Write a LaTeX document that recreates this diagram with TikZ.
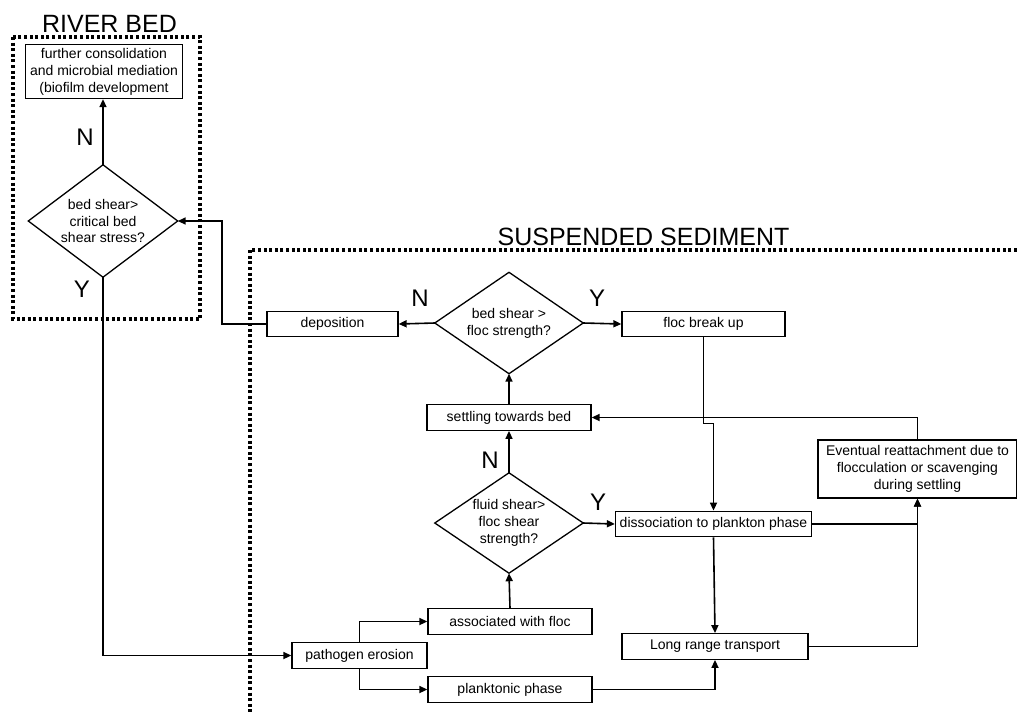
\documentclass[tikz,border=0pt]{standalone}
\usepackage{fontspec}
\setmainfont{Liberation Sans}
\usetikzlibrary{arrows.meta}
\begin{document}
\begin{tikzpicture}[x=1pt,y=-1pt,
  box/.style={draw, line width=1.3pt, inner sep=0pt, align=center,
    font=\fontsize{14}{17}\selectfont, minimum height=25.5pt},
  dia/.style={inner sep=0pt, align=center, font=\fontsize{14}{16.8}\selectfont},
  diaedge/.style={line width=1.3pt, line join=miter},
  conn/.style={line width=1.6pt, -{Triangle[length=8pt,width=7pt]}},
  yn/.style={font=\fontsize{24}{28}\selectfont},
  ttl/.style={font=\fontsize{25}{30}\selectfont, anchor=base},
  framed/.style={line width=3.4pt, dash pattern=on 3pt off 2.6pt}
]
\useasboundingbox (0,0) rectangle (1017,713);

% frames and titles
\draw[framed] (13,37) rectangle (200,319);
\node[ttl] (t1) at (109.5,32) {RIVER BED};
\draw[framed] (1017,250) -- (250,250) -- (250,713);
\node[ttl] (t2) at (643.5,245) {SUSPENDED SEDIMENT};

% river bed
\node[box, minimum width=157pt, minimum height=54pt] (tb) at (104,71.5)
  {further consolidation\\and microbial mediation\\(biofilm development};
\node[dia, minimum width=149pt, minimum height=112pt] (d1) at (103,221)
  {bed shear>\\critical bed\\shear stress?};
\draw[diaedge] (d1.north) -- (d1.east) -- (d1.south) -- (d1.west) -- cycle;
\node[yn] (n1) at (85,137) {N};
\node[yn] (y1) at (82,289) {Y};

% suspended sediment
\node[box, minimum width=131pt] (dep) at (332.5,324) {deposition};
\node[dia, minimum width=148pt, minimum height=101pt] (d2) at (509,323)
  {bed shear >\\floc strength?};
\draw[diaedge] (d2.north) -- (d2.east) -- (d2.south) -- (d2.west) -- cycle;
\node[yn] (n2) at (420,298) {N};
\node[yn] (y2) at (597,298) {Y};
\node[box, minimum width=163pt] (floc) at (703.5,324) {floc break up};

\node[box, minimum width=164pt] (settle) at (509,417.5) {settling towards bed};
\node[dia, minimum width=148pt, minimum height=100pt] (d3) at (509,523)
  {fluid shear>\\floc shear\\strength?};
\draw[diaedge] (d3.north) -- (d3.east) -- (d3.south) -- (d3.west) -- cycle;
\node[yn] (n3) at (490,460) {N};
\node[yn] (y3) at (598,502) {Y};
\node[box, minimum width=196pt] (dis) at (713.5,524) {dissociation to plankton phase};
\node[box, minimum width=199pt, minimum height=58pt] (ev) at (917.5,469)
  {Eventual reattachment due to\\flocculation or scavenging\\during settling};

\node[box, minimum width=164pt] (assoc) at (510,621.5) {associated with floc};
\node[box, minimum width=135pt] (path) at (359.5,655.5) {pathogen erosion};
\node[box, minimum width=164pt] (plank) at (510,689.5) {planktonic phase};
\node[box, minimum width=186pt] (long) at (715,646.5) {Long range transport};

\coordinate (c1) at (222,0);

% connectors
\draw[conn] (d1.north) -- (tb.south -| d1.north);
\draw[conn] (d1.south) |- (path.west);
\draw[conn] (dep.west) -- (dep.west -| c1) -- (c1 |- d1.east) -- (d1.east);
\draw[conn] (d2.west) -- (dep.east);
\draw[conn] (d2.east) -- (floc.west);
\draw[conn] (settle.north) -- (d2.south);
\draw[conn] (d3.north) -- (settle.south);
\draw[conn] (d3.east) -- (dis.west);
\draw[conn] (assoc.north) -- (d3.south);
\draw[conn] (path.north) |- (assoc.west);
\draw[conn] (path.south) |- (plank.west);
\draw[conn] (plank.east) -| (long.south);
\draw[conn] (floc.south) -- ++(0,86) -| (dis.north);
\draw[conn] (dis.south) -- (long.north);
\draw[conn] (dis.east) -| (ev.south);
\draw[conn] (long.east) -| (ev.south);
\draw[conn] (ev.north) |- (settle.east);
\end{tikzpicture}
\end{document}
